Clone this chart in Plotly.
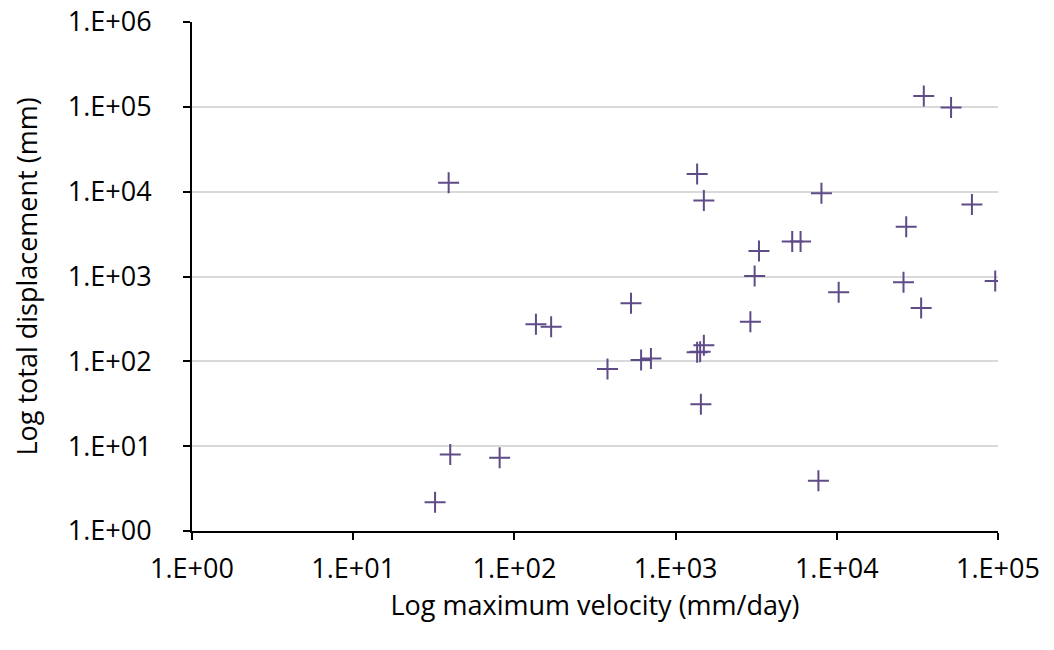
import plotly.graph_objects as go

velocity = [39.1, 136, 169, 40, 81, 32.2,
            1360, 1497, 3290, 3092, 529, 2910, 1497, 1360, 1420, 611, 703, 378, 1435,
            34650, 51150, 8030, 68900, 26950, 5290, 5960, 10270, 25930, 33360, 96100,
            7690]
displacement = [12700, 274, 255, 8.0, 7.3, 2.18,
                16200, 7860, 1994, 1014, 484, 292, 155, 128, 130, 104, 108, 81, 31.2,
                134600, 98100, 9580, 7050, 3860, 2594, 2594, 652, 855, 426, 885,
                3.92]

x_tickvals = [1, 10, 100, 1000, 10000, 100000]
x_ticktext = ["1.E+00", "1.E+01", "1.E+02", "1.E+03", "1.E+04", "1.E+05"]
y_tickvals = [1, 10, 100, 1000, 10000, 100000, 1000000]
y_ticktext = ["1.E+00", "1.E+01", "1.E+02", "1.E+03", "1.E+04", "1.E+05", "1.E+06"]

font = "Open Sans, Lato, sans-serif"

fig = go.Figure(go.Scatter(
    x=velocity, y=displacement, mode="markers",
    marker=dict(symbol="cross-thin-open", size=15, color="#5E4B87",
                line=dict(width=2, color="#5E4B87")),
    showlegend=False,
))

fig.update_layout(
    width=1054, height=650,
    paper_bgcolor="white", plot_bgcolor="white",
    margin=dict(l=192, r=56, t=22, b=119, autoexpand=False),
    font=dict(family=font, size=27, color="#000000"),
)
fig.update_xaxes(
    type="log", range=[0, 5], automargin=False,
    tickvals=x_tickvals, ticktext=x_ticktext,
    showgrid=False, zeroline=False,
    showline=True, linecolor="black", linewidth=2,
    ticks="outside", ticklen=7, tickcolor="black", tickwidth=2,
    tickfont=dict(size=27), ticklabelstandoff=6, ticklabeloverflow="allow",
    title=dict(text="Log maximum velocity (mm/day)", font=dict(size=27), standoff=11),
)
fig.update_yaxes(
    type="log", range=[0, 6], automargin=False,
    tickvals=y_tickvals, ticktext=y_ticktext,
    showgrid=True, gridcolor="#D9D9D9", gridwidth=1.5, zeroline=False,
    showline=True, linecolor="black", linewidth=2,
    ticks="outside", ticklen=7, tickcolor="black", tickwidth=1.5,
    tickfont=dict(size=27), ticklabelstandoff=26, ticklabeloverflow="allow",
    title=dict(text="Log total displacement (mm)", font=dict(size=27), standoff=22),
)

fig.write_html("out.html", config={"displayModeBar": False},
               post_script="document.body.style.margin='0';")
